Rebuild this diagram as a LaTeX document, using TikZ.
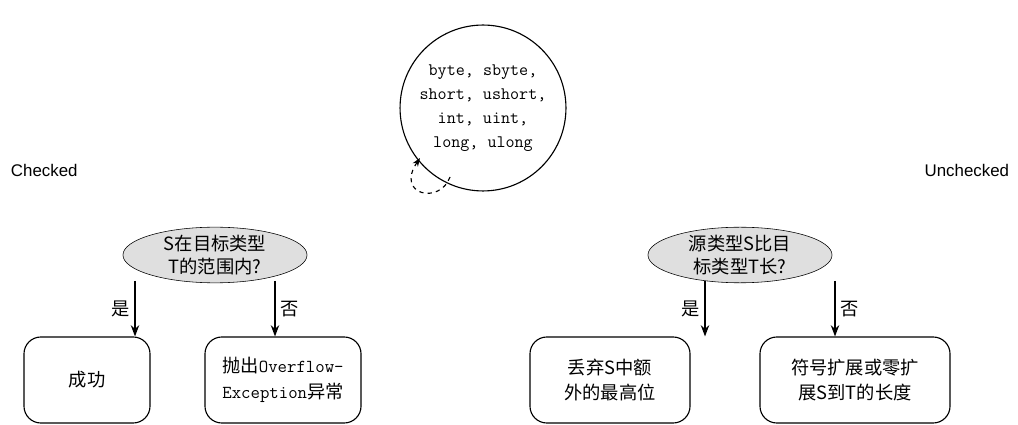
\documentclass[tikz,border=0pt]{standalone}
\usepackage{fontspec}
\setmainfont{Noto Sans CJK SC}
\setsansfont{Liberation Sans}
\usetikzlibrary{shapes.geometric,arrows.meta}
\tikzset{
  question/.style={ellipse, draw, fill=gray!25, minimum width=4.6cm, minimum height=1.35cm, align=center, inner sep=0pt, font=\fontsize{13}{16}\selectfont},
  result/.style={draw, thick, rounded corners=12pt, minimum height=2.15cm, align=center, font=\fontsize{13}{18}\selectfont},
  branch/.style={thick, -{Stealth[length=8pt]}},
}
\begin{document}
\begin{tikzpicture}[x=0.025cm, y=-0.025cm]
				\useasboundingbox (0,0) rectangle (1018,425);

				% integer types
				\node[circle, draw, thick, minimum size=4cm, align=center, font=\ttfamily\fontsize{12.5}{17}\selectfont] (types) at (483,108) {byte, sbyte,\\short, ushort,\\int, uint,\\long, ulong};
				\coordinate (loopend) at (420,158);
				\draw[thick, dashed, -{Stealth[length=6pt]}] (450,177) .. controls (440,205) and (395,195) .. (loopend);

				\node[font=\sffamily\fontsize{12}{14}\selectfont, anchor=west] (checked) at (6,170) {Checked};
				\node[font=\sffamily\fontsize{12}{14}\selectfont, anchor=east] (unchecked) at (1014,170) {Unchecked};

				% checked
				\node[question] (inrange) at (215,255) {S在目标类型\\T的范围内?};
				\node[result, minimum width=3.15cm] (ok) at (87,380) {成功};
				\node[result, minimum width=3.9cm] (throw) at (283,380) {抛出{\ttfamily Overflow-}\\{\ttfamily Exception}异常};
				\coordinate (c1) at (135,281);
				\coordinate (c2) at (275,281);
				\draw[branch] (c1) -- node[left, font=\fontsize{13}{15}\selectfont] {是} (c1 |- ok.north);
				\draw[branch] (c2) -- node[right, font=\fontsize{13}{15}\selectfont] {否} (c2 |- throw.north);

				% unchecked
				\node[question] (longer) at (740,255) {源类型S比目\\标类型T长?};
				\node[result, minimum width=4cm] (drop) at (610,380) {丢弃S中额\\外的最高位};
				\node[result, minimum width=4.75cm] (extend) at (855,380) {符号扩展或零扩\\展S到T的长度};
				\coordinate (c3) at (705,281);
				\coordinate (c4) at (835,281);
				\draw[branch] (c3) -- node[left, font=\fontsize{13}{15}\selectfont] {是} (c3 |- drop.north);
				\draw[branch] (c4) -- node[right, font=\fontsize{13}{15}\selectfont] {否} (c4 |- extend.north);
			\end{tikzpicture}
\end{document}
